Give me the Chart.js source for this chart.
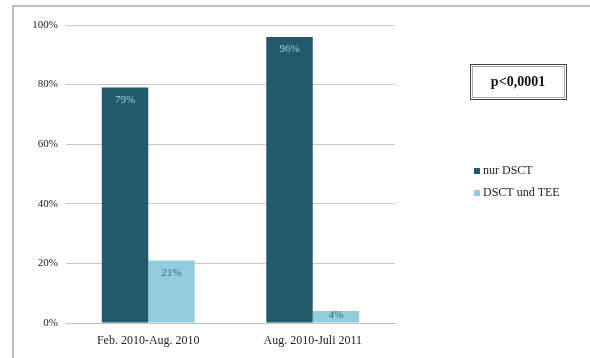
<!DOCTYPE html>
<html>
<head>
<meta charset="utf-8">
<script src="https://cdn.jsdelivr.net/npm/chart.js@4.4.0/dist/chart.umd.min.js"></script>
<style>
  html, body { margin: 0; padding: 0; background: #ffffff; }
  #wrap { position: relative; width: 590px; height: 358px; }
</style>
</head>
<body>
<div id="wrap"><canvas id="dsctChart" width="590" height="358"></canvas></div>
<script>
var categories = ['Feb. 2010-Aug. 2010', 'Aug. 2010-Juli 2011'];
var nurDsct = [79, 96];
var dsctUndTee = [21, 4];
var seriesNames = ['nur DSCT', 'DSCT und TEE'];
var yTicks = [0, 20, 40, 60, 80, 100];
var pValueText = 'p<0,0001';

var darkColor = '#215a6b';
var lightColor = '#93cddd';
var serif = '"Liberation Serif", "Times New Roman", serif';

// frame, value labels, p-value box and legend
var extrasPlugin = {
    id: 'extras',
    beforeDraw: function(chart) {
        var ctx = chart.ctx;
        ctx.save();
        ctx.strokeStyle = '#bdbdbd';
        ctx.lineWidth = 2;
        ctx.strokeRect(13, 6, 600, 400);
        ctx.restore();
    },
    afterDatasetsDraw: function(chart) {
        var ctx = chart.ctx;
        ctx.save();
        ctx.font = '11px ' + serif;
        ctx.textAlign = 'center';
        ctx.textBaseline = 'top';
        chart.data.datasets.forEach(function(ds, di) {
            var meta = chart.getDatasetMeta(di);
            meta.data.forEach(function(bar, i) {
                var v = ds.data[i];
                ctx.fillStyle = di === 0 ? '#9fd3e0' : '#2d6c7c';
                var y = bar.y + 7;
                if (v < 8) y = bar.y - 1;
                ctx.fillText(v + '%', bar.x, y);
            });
        });

        // p-value box
        ctx.strokeStyle = '#444444';
        ctx.lineWidth = 1;
        ctx.strokeRect(470.5, 64.5, 96, 35);
        ctx.strokeStyle = '#aaaaaa';
        ctx.strokeRect(472.5, 66.5, 92, 31);
        ctx.fillStyle = '#111111';
        ctx.font = 'bold 14px ' + serif;
        ctx.textBaseline = 'middle';
        ctx.fillText(pValueText, 518, 82);

        // legend
        ctx.font = '12px ' + serif;
        ctx.textAlign = 'left';
        var colors = [darkColor, lightColor];
        seriesNames.forEach(function(name, i) {
            var y = 171 + i * 22;
            ctx.fillStyle = colors[i];
            ctx.fillRect(474, y - 3, 6, 6);
            ctx.fillStyle = '#222222';
            ctx.fillText(name, 483, y);
        });
        ctx.restore();
    }
};

var chart = new Chart(document.getElementById('dsctChart'), {
    type: 'bar',
    data: {
        labels: categories,
        datasets: [{
            label: seriesNames[0],
            data: nurDsct,
            backgroundColor: darkColor,
            borderWidth: 0
        }, {
            label: seriesNames[1],
            data: dsctUndTee,
            backgroundColor: lightColor,
            borderWidth: 0
        }]
    },
    options: {
        responsive: false,
        animation: false,
        layout: {
            padding: { left: 12, top: 25, right: 195, bottom: 0 }
        },
        datasets: {
            bar: { barPercentage: 1, categoryPercentage: 0.565 }
        },
        scales: {
            x: {
                grid: { display: false },
                border: { color: '#bfbfbf' },
                ticks: {
                    color: '#222222',
                    font: { family: serif, size: 12 },
                    maxRotation: 0
                },
                afterFit: function(axis) { axis.height = 35; }
            },
            y: {
                min: 0,
                max: 100,
                afterBuildTicks: function(axis) {
                    axis.ticks = yTicks.map(function(v) { return { value: v }; });
                },
                grid: { color: '#c8c8c8', drawTicks: false },
                border: { display: false },
                ticks: {
                    color: '#222222',
                    font: { family: serif, size: 11 },
                    padding: 8,
                    callback: function(value) { return value + '%'; }
                },
                afterFit: function(axis) { axis.width = 54; }
            }
        },
        plugins: {
            legend: { display: false },
            tooltip: { enabled: false }
        }
    },
    plugins: [extrasPlugin]
});
</script>
</body>
</html>
